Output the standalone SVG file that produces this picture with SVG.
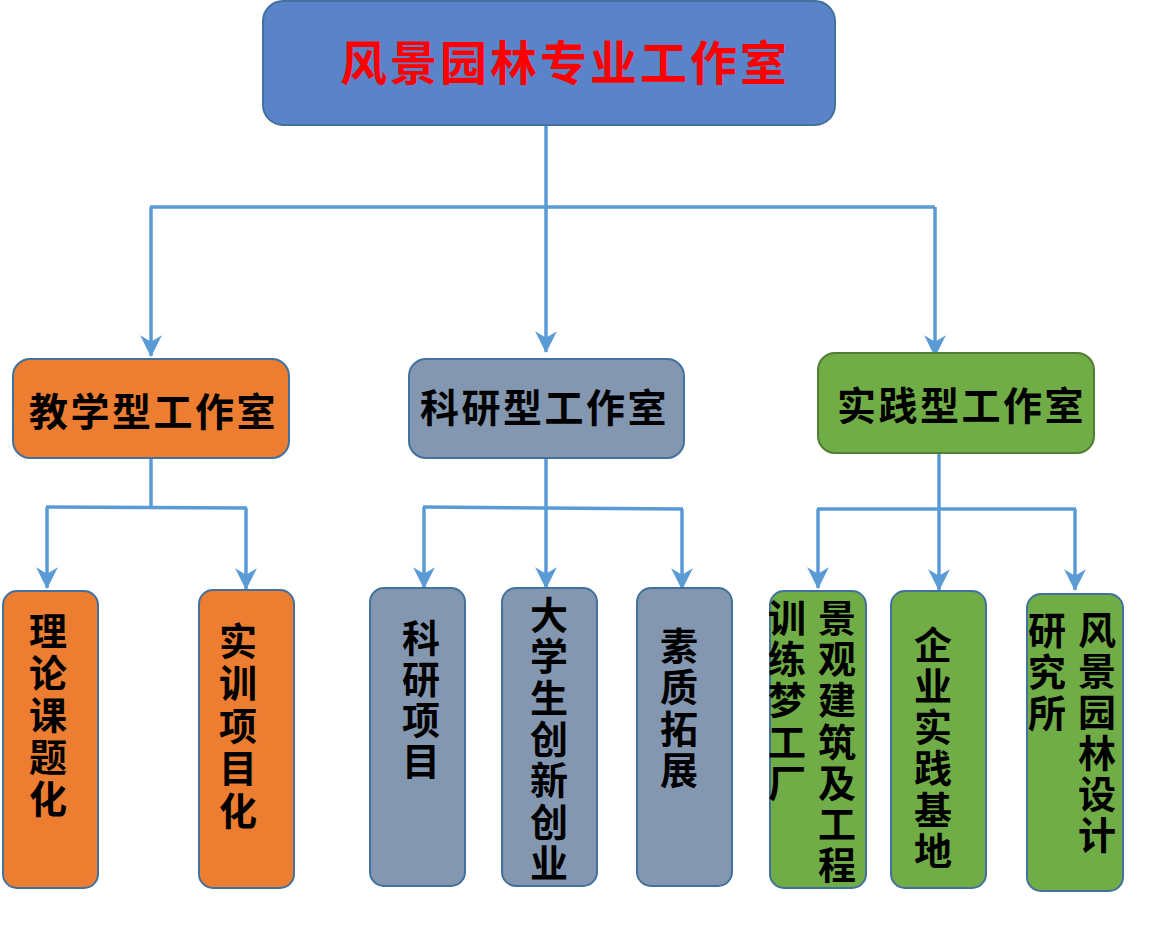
<svg xmlns="http://www.w3.org/2000/svg" width="1149" height="941" viewBox="0 0 1149 941">
<style>
.t{font-family:"Noto Sans CJK SC","Liberation Sans",sans-serif;font-weight:bold;fill:#000;}
.title{font-size:47px;fill:#FF0000;letter-spacing:3px;}
.l2{font-size:39px;letter-spacing:2.5px;}
.v{font-size:38px;text-anchor:middle;}
.blue{fill:#5B83C9;stroke:#41719C;stroke-width:2;}
.org{fill:#ED7D31;stroke:#41719C;stroke-width:2;}
.gry{fill:#8497B0;stroke:#41719C;stroke-width:2;}
.grn{fill:#70AD47;stroke:#41719C;stroke-width:2;}
.grn2{fill:#70AD47;stroke:#507E32;stroke-width:2;}
.c{fill:none;stroke:#5B9BD5;stroke-width:3.5;}
.a{marker-end:url(#arr);}
</style>
<defs>
<marker id="arr" markerUnits="userSpaceOnUse" markerWidth="24" markerHeight="24" viewBox="-20 -11 22 22" refX="0" refY="0" orient="auto">
<path d="M1,0 L-19,-10 L-13,0 L-19,10 Z" fill="#5B9BD5"/>
</marker>
</defs>
<g id="connectors">
<path class="c a" d="M546,125 V352"/>
<path class="c" d="M150,207 H935"/>
<path class="c a" d="M151,207 V356"/>
<path class="c a" d="M935,207 V356"/>
<path class="c" d="M151,455 V508"/>
<path class="c" d="M46,507 L247,508"/>
<path class="c a" d="M47,507 V588"/>
<path class="c a" d="M246,508 V589"/>
<path class="c a" d="M546,458 V588"/>
<path class="c" d="M423,507 L683,509"/>
<path class="c a" d="M424,507 V588"/>
<path class="c a" d="M682,509 V589"/>
<path class="c a" d="M939,453 V590"/>
<path class="c" d="M817,509 H1076"/>
<path class="c a" d="M818,509 V588"/>
<path class="c a" d="M1075,509 V590"/>
</g>
<g id="root">
<rect class="blue" x="263" y="1" width="572" height="124" rx="20"/>
<text class="t title" x="340" y="80">风景园林专业工作室</text>
</g>
<g id="teaching">
<rect class="org" x="13" y="359" width="276" height="99" rx="17"/>
<text class="t l2" x="29" y="426">教学型工作室</text>
</g>
<g id="research">
<rect class="gry" x="409" y="359" width="275" height="99" rx="17"/>
<text class="t l2" x="420" y="422">科研型工作室</text>
</g>
<g id="practice">
<rect class="grn2" x="818" y="353" width="276" height="100" rx="17"/>
<text class="t l2" x="837" y="420">实践型工作室</text>
</g>
<g id="n-theory">
<rect class="org" x="3" y="591" width="95" height="297" rx="14"/>
<text class="t v"><tspan x="48" y="645">理</tspan><tspan x="48" y="687">论</tspan><tspan x="48" y="729">课</tspan><tspan x="48" y="771">题</tspan><tspan x="48" y="813">化</tspan></text>
</g>
<g id="n-training">
<rect class="org" x="199" y="590" width="95" height="298" rx="14"/>
<text class="t v"><tspan x="238" y="655">实</tspan><tspan x="238" y="697">训</tspan><tspan x="238" y="740">项</tspan><tspan x="238" y="782">目</tspan><tspan x="238" y="825">化</tspan></text>
</g>
<g id="n-project">
<rect class="gry" x="370" y="588" width="95" height="298" rx="14"/>
<text class="t v"><tspan x="421" y="652">科</tspan><tspan x="421" y="693">研</tspan><tspan x="421" y="734">项</tspan><tspan x="421" y="775">目</tspan></text>
</g>
<g id="n-innovation">
<rect class="gry" x="502" y="588" width="95" height="298" rx="14"/>
<text class="t v"><tspan x="549" y="629">大</tspan><tspan x="549" y="670">学</tspan><tspan x="549" y="712">生</tspan><tspan x="549" y="753">创</tspan><tspan x="549" y="794">新</tspan><tspan x="549" y="836">创</tspan><tspan x="549" y="877">业</tspan></text>
</g>
<g id="n-quality">
<rect class="gry" x="637" y="588" width="95" height="298" rx="14"/>
<text class="t v"><tspan x="679" y="660">素</tspan><tspan x="679" y="701">质</tspan><tspan x="679" y="743">拓</tspan><tspan x="679" y="784">展</tspan></text>
</g>
<g id="n-landscape">
<rect class="grn" x="770" y="591" width="96" height="297" rx="14"/>
<text class="t v"><tspan x="837" y="632">景</tspan><tspan x="837" y="673">观</tspan><tspan x="837" y="714">建</tspan><tspan x="837" y="756">筑</tspan><tspan x="837" y="797">及</tspan><tspan x="837" y="838">工</tspan><tspan x="837" y="879">程</tspan></text>
<text class="t v"><tspan x="787" y="632">训</tspan><tspan x="787" y="673">练</tspan><tspan x="787" y="714">梦</tspan><tspan x="787" y="756">工</tspan><tspan x="787" y="797">厂</tspan></text>
</g>
<g id="n-enterprise">
<rect class="grn" x="891" y="591" width="95" height="297" rx="14"/>
<text class="t v"><tspan x="933" y="659">企</tspan><tspan x="933" y="700">业</tspan><tspan x="933" y="741">实</tspan><tspan x="933" y="782">践</tspan><tspan x="933" y="824">基</tspan><tspan x="933" y="865">地</tspan></text>
</g>
<g id="n-design">
<rect class="grn" x="1027" y="594" width="96" height="297" rx="14"/>
<text class="t v"><tspan x="1097" y="644">风</tspan><tspan x="1097" y="685">景</tspan><tspan x="1097" y="726">园</tspan><tspan x="1097" y="767">林</tspan><tspan x="1097" y="808">设</tspan><tspan x="1097" y="849">计</tspan></text>
<text class="t v"><tspan x="1047" y="644">研</tspan><tspan x="1047" y="686">究</tspan><tspan x="1047" y="727">所</tspan></text>
</g>
</svg>
